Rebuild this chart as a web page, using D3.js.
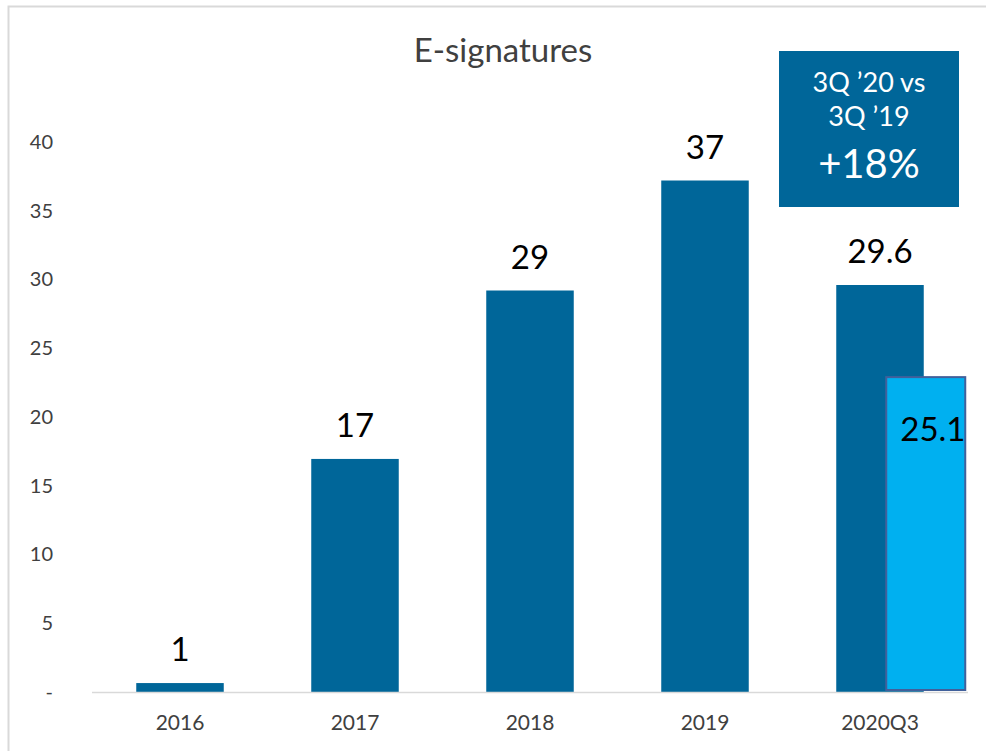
<!DOCTYPE html>
<html>
<head>
<meta charset="utf-8">
<script src="https://cdn.jsdelivr.net/npm/d3@7"></script>
<style>
  body { margin: 0; background: #fff; }
  text { font-family: Lato, "Open Sans", sans-serif; }
</style>
</head>
<body>
<div id="chart"></div>
<script>
// values
var categories = ["2016", "2017", "2018", "2019", "2020Q3"];
var values = [0.65, 16.95, 29.2, 37.2, 29.6];
var valueLabels = ["1", "17", "29", "37", "29.6"];
var yTicks = [0, 5, 10, 15, 20, 25, 30, 35, 40];
var overlayValue = 22.9;
var overlayLabel = "25.1";
var boxLines = ["3Q \u201920 vs", "3Q \u201919", "+18%"];

var W = 986, H = 751;
var svg = d3.select("#chart").append("svg").attr("width", W).attr("height", H);

// chart frame
svg.append("rect").attr("x", 8.5).attr("y", 6.5).attr("width", W).attr("height", H)
  .attr("fill", "none").attr("stroke", "#d9d9d9").attr("stroke-width", 2);

var x = d3.scaleBand().domain(categories).range([92.5, 967.5]).paddingInner(0.5).paddingOuter(0.25);
var y = d3.scaleLinear().domain([0, 40]).range([692, 142]);

svg.append("text").attr("x", 503).attr("y", 62).attr("text-anchor", "middle")
  .attr("font-size", 33).attr("fill", "#404040").text("E-signatures");

// y axis labels, no line
var yAxis = svg.append("g").attr("transform", "translate(53,0)")
  .call(d3.axisLeft(y).tickValues(yTicks).tickSize(0).tickPadding(0)
    .tickFormat(function(d){ return d === 0 ? "-  " : d; }));
yAxis.select(".domain").remove();
yAxis.selectAll("text").attr("font-size", 20).attr("fill", "#404040")
  .style("font-family", "Lato, 'Open Sans', sans-serif");

// bars
svg.selectAll("rect.bar").data(values).enter().append("rect")
  .classed("bar", true)
  .attr("x", function(d, i){ return x(categories[i]); })
  .attr("y", function(d){ return y(d); })
  .attr("width", x.bandwidth())
  .attr("height", function(d){ return y(0) - y(d); })
  .attr("fill", "#006699");

// baseline
svg.append("line").attr("x1", 92).attr("x2", 968).attr("y1", y(0) + 0.5).attr("y2", y(0) + 0.5)
  .attr("stroke", "#d9d9d9").attr("stroke-width", 1.5);

// value labels
svg.selectAll("text.val").data(values).enter().append("text")
  .classed("val", true)
  .attr("x", function(d, i){ return x(categories[i]) + x.bandwidth() / 2; })
  .attr("y", function(d){ return y(d) - 22; })
  .attr("text-anchor", "middle").attr("font-size", 33).attr("fill", "#000")
  .text(function(d, i){ return valueLabels[i]; });

// x axis labels
var xAxis = svg.append("g").attr("transform", "translate(0," + y(0) + ")")
  .call(d3.axisBottom(x).tickSize(0).tickPadding(23));
xAxis.select(".domain").remove();
xAxis.selectAll("text").attr("font-size", 21).attr("fill", "#404040")
  .style("font-family", "Lato, 'Open Sans', sans-serif");

// light blue overlay box on the last bar
var last = categories[categories.length - 1];
var ox = x(last) + 50;
svg.append("rect").attr("x", ox).attr("y", y(overlayValue))
  .attr("width", 79).attr("height", y(0) - y(overlayValue) - 2)
  .attr("fill", "#00b0f0").attr("stroke", "#41609b").attr("stroke-width", 2);
svg.append("text").attr("x", ox + 14).attr("y", 441).attr("font-size", 33).attr("fill", "#000")
  .text(overlayLabel);

// comparison box
var bx = 779, by = 51, bw = 180, bh = 156;
svg.append("rect").attr("x", bx).attr("y", by).attr("width", bw).attr("height", bh).attr("fill", "#006699");
svg.selectAll("text.box").data(boxLines).enter().append("text")
  .classed("box", true)
  .attr("x", bx + bw / 2)
  .attr("y", function(d, i){ return [92, 126, 178][i]; })
  .attr("text-anchor", "middle").attr("fill", "#fff")
  .attr("font-size", function(d, i){ return i === 2 ? 40 : 27; })
  .text(function(d){ return d; });
</script>
</body>
</html>
